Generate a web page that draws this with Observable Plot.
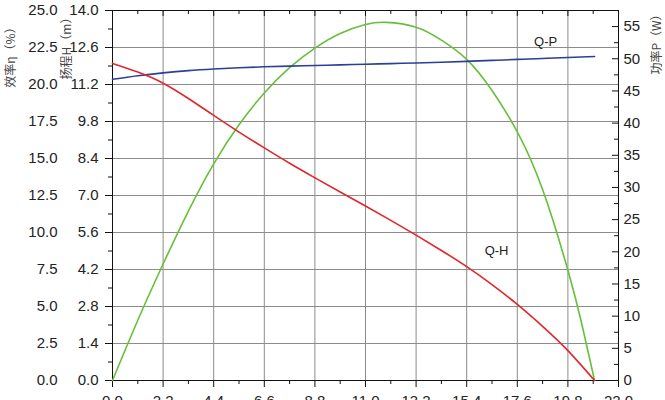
<!DOCTYPE html>
<html><head><meta charset="utf-8">
<script src="https://cdn.jsdelivr.net/npm/d3@7"></script>
<script src="https://cdn.jsdelivr.net/npm/@observablehq/plot@0.6"></script>
<style>body{margin:0;background:#fff}</style>
</head><body><div id="chart"></div>
<script>
// Q-H curve: flow (x) vs head (m)
const flowH = [0, 1.1, 2.2, 3.3, 4.4, 5.5, 6.6, 7.7, 8.8, 9.9, 11.0, 12.1, 13.2, 14.3, 15.4, 16.5, 17.6, 18.7, 19.8, 20.96];
const head  = [12.0, 11.67, 11.25, 10.67, 10.03, 9.4, 8.8, 8.22, 7.67, 7.13, 6.6, 6.06, 5.5, 4.92, 4.31, 3.63, 2.88, 2.05, 1.13, 0];
// efficiency curve: flow vs efficiency (%)
const flowE = [0, 1.1, 2.2, 3.3, 4.4, 5.5, 6.6, 7.7, 8.8, 9.9, 11.0, 11.9, 13.2, 14.3, 15.4, 16.5, 17.6, 18.7, 19.8, 20.4, 20.96];
const efficiency = [0, 4.07, 7.87, 11.45, 14.64, 17.28, 19.43, 21.14, 22.46, 23.45, 24.05, 24.2, 23.87, 23.0, 21.7, 19.6, 16.8, 12.9, 7.45, 3.85, 0];
// Q-P curve: flow vs power (W)
const flowP = [0, 1.1, 2.2, 3.3, 4.4, 5.5, 6.6, 7.7, 8.8, 9.9, 11.0, 12.1, 13.2, 14.3, 15.4, 16.5, 17.6, 18.7, 19.8, 20.96];
const power = [46.8, 47.35, 47.8, 48.15, 48.4, 48.6, 48.75, 48.85, 48.95, 49.05, 49.15, 49.25, 49.35, 49.45, 49.6, 49.75, 49.9, 50.05, 50.2, 50.35];

const xTicks = [0, 2.2, 4.4, 6.6, 8.8, 11.0, 13.2, 15.4, 17.6, 19.8, 22.0];
const xMinor = [1.1, 3.3, 5.5, 7.7, 9.9, 12.1, 14.3, 16.5, 18.7, 20.9];
const headTicks = [0, 1.4, 2.8, 4.2, 5.6, 7.0, 8.4, 9.8, 11.2, 12.6, 14.0];
const headMinor = [0.7, 2.1, 3.5, 4.9, 6.3, 7.7, 9.1, 10.5, 11.9, 13.3];
const effTicks = [0, 2.5, 5, 7.5, 10, 12.5, 15, 17.5, 20, 22.5, 25];
const powerTicks = [0, 5, 10, 15, 20, 25, 30, 35, 40, 45, 50, 55];
const powerMinor = [2.5, 7.5, 12.5, 17.5, 22.5, 27.5, 32.5, 37.5, 42.5, 47.5, 52.5];

const curveLabels = [
  {q: 18.83, h: 12.83, text: "Q-P"},
  {q: 16.7, h: 4.92, text: "Q-H"}
];
const titles = {eff: "效率η（%）", head: "扬程H（m）", power: "功率P（W）"};

const HEAD_MAX = 14, EFF_MAX = 25, POWER_MAX = 57.5;
const fromEff = e => e * HEAD_MAX / EFF_MAX;
const fromPow = p => p * HEAD_MAX / POWER_MAX;

const hData = flowH.map((q, i) => ({q, v: head[i]}));
const eData = flowE.map((q, i) => ({q, v: fromEff(efficiency[i])}));
const pData = flowP.map((q, i) => ({q, v: fromPow(power[i])}));

const W = 665, H = 420, mL = 112, mR = 47, mT = 10, mB = 40;
const plotW = W - mL - mR, plotH = H - mT - mB;
const blank = () => "";
const cjk = "'Noto Sans CJK SC', 'Noto Sans', sans-serif";
const titleStyle = {rotate: -90, textAnchor: "middle", lineAnchor: "middle", fontSize: 12, fill: "#444", fontFamily: cjk};

const chart = Plot.plot({
  width: W, height: H,
  marginLeft: mL, marginRight: mR, marginTop: mT, marginBottom: mB,
  x: {domain: [0, 22]},
  y: {domain: [0, HEAD_MAX]},
  style: {fontFamily: "'Liberation Sans', Arial, sans-serif", fontSize: "15px", color: "#222", background: "#fff"},
  marks: [
    Plot.gridX({ticks: xTicks, stroke: "#8c8c8c", strokeOpacity: 1, strokeWidth: 1}),
    Plot.gridY({ticks: headTicks, stroke: "#8c8c8c", strokeOpacity: 1, strokeWidth: 1}),
    Plot.frame({stroke: "#111"}),
    // bottom axis
    Plot.axisX({ticks: xTicks, tickSize: 7, tickPadding: 8, tickFormat: d => d.toFixed(1), label: null, stroke: "#111"}),
    Plot.axisX({ticks: xMinor, tickSize: 4, tickFormat: blank, label: null, stroke: "#111"}),
    // top inward ticks
    Plot.axisX({ticks: xTicks, anchor: "bottom", dy: -plotH, tickSize: 6, tickFormat: blank, label: null, stroke: "#111"}),
    Plot.axisX({ticks: xMinor, anchor: "bottom", dy: -plotH, tickSize: 4, tickFormat: blank, label: null, stroke: "#111"}),
    // left: head axis
    Plot.axisY({ticks: headTicks, tickSize: 7, tickPadding: 7, tickFormat: d => d.toFixed(1), label: null, stroke: "#111"}),
    Plot.axisY({ticks: headMinor, tickSize: 4, tickFormat: blank, label: null, stroke: "#111"}),
    // left outer: efficiency labels
    Plot.axisY({ticks: effTicks.map(fromEff), tickSize: 0, tickPadding: 55, tickFormat: d => (d * EFF_MAX / HEAD_MAX).toFixed(1), label: null}),
    // right: power axis
    Plot.axisY({ticks: powerTicks.map(fromPow), anchor: "right", tickSize: 0, tickPadding: 5, tickFormat: d => String(Math.round(d * POWER_MAX / HEAD_MAX)), label: null}),
    Plot.axisY({ticks: powerTicks.map(fromPow), anchor: "left", dx: plotW, tickSize: 6, tickFormat: blank, label: null, stroke: "#111"}),
    Plot.axisY({ticks: powerMinor.map(fromPow), anchor: "left", dx: plotW, tickSize: 4, tickFormat: blank, label: null, stroke: "#111"}),
    // curves
    Plot.line(eData, {x: "q", y: "v", stroke: "#67bf3a", strokeWidth: 1.6, curve: "natural"}),
    Plot.line(pData, {x: "q", y: "v", stroke: "#2b3f97", strokeWidth: 1.6, curve: "natural"}),
    Plot.line(hData, {x: "q", y: "v", stroke: "#e0282c", strokeWidth: 1.6, curve: "natural"}),
    Plot.text(curveLabels, {x: "q", y: "h", text: "text", fontSize: 13, fill: "#222"}),
    // axis titles
    Plot.text([titles.eff], {frameAnchor: "top-left", dx: -101, dy: 44, ...titleStyle}),
    Plot.text([titles.head], {frameAnchor: "top-left", dx: -45, dy: 35, ...titleStyle}),
    Plot.text([titles.power], {frameAnchor: "top-right", dx: 39, dy: 31, ...titleStyle})
  ]
});
document.getElementById("chart").appendChild(chart);
</script>
</body></html>
